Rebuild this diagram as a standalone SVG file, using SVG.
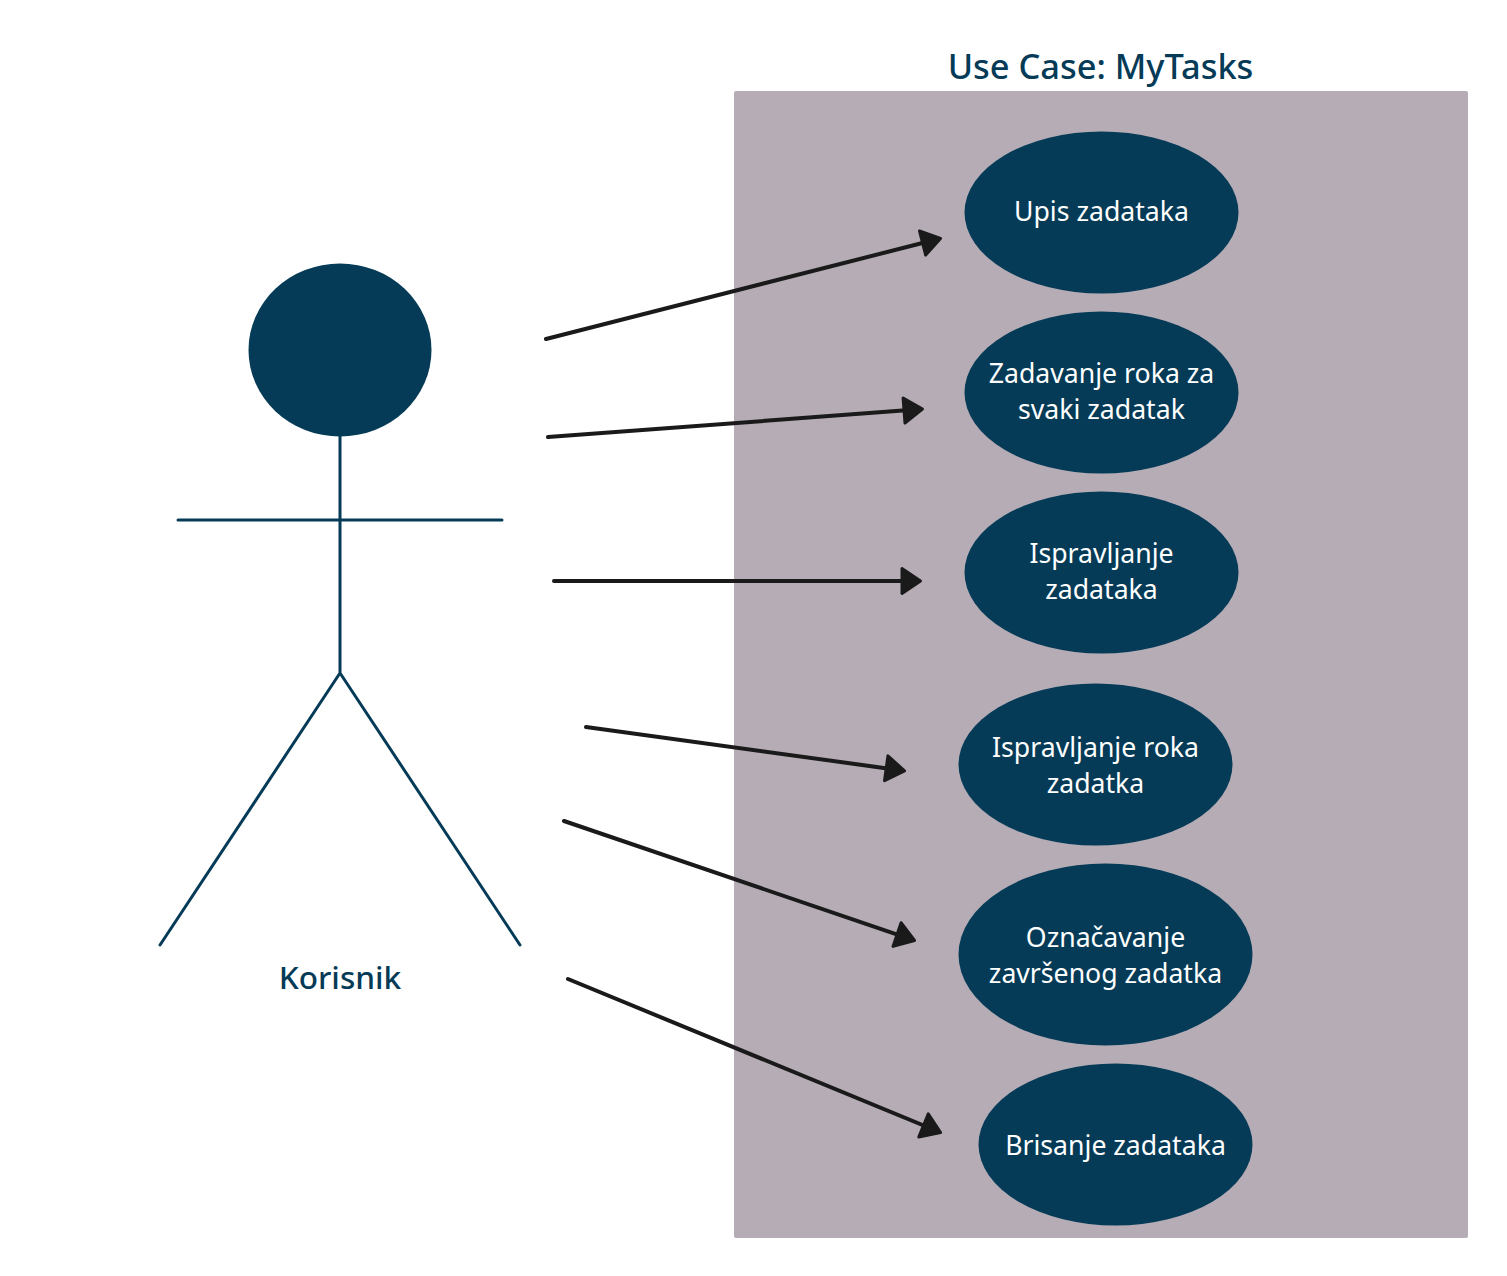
<svg xmlns="http://www.w3.org/2000/svg" width="1507" height="1276" viewBox="0 0 1507 1276">
<defs>
<marker id="arrow" markerUnits="userSpaceOnUse" markerWidth="24" markerHeight="30" refX="14" refY="15" orient="auto"><path d="M2 2.500L20.500 15L2 27.500Z" fill="#1a1a1a" stroke="#1a1a1a" stroke-width="3" stroke-linejoin="round"/></marker>
</defs>
<style>
.uc{fill:#053b57}
.t{font-family:"Noto Sans",sans-serif;font-size:26.650px;fill:#fff;text-anchor:middle}
.h{font-family:"Noto Sans",sans-serif;font-size:34.400px;font-weight:500;fill:#053b57;text-anchor:middle}
.k{font-family:"Noto Sans",sans-serif;font-size:31.600px;font-weight:500;fill:#053b57;text-anchor:middle}
.c{fill:none;stroke:#1a1a1a;stroke-width:4;stroke-linecap:round;marker-end:url(#arrow)}
.a{fill:none;stroke:#053b57;stroke-width:3;stroke-linecap:round;stroke-linejoin:round}
</style>
<rect id="boundary" x="734" y="91" width="734" height="1147" rx="2" fill="#b6acb5"/>
<text id="title" class="h" x="1100.500" y="79">Use Case: MyTasks</text>
<g id="actor"><ellipse cx="340" cy="350" rx="91.500" ry="86.500" class="uc"/><path class="a" d="M340 436V673M178 520H502M160 945L340 673L520 945"/><text class="k" x="340" y="989">Korisnik</text></g>
<g id="uc1"><ellipse class="uc" cx="1101.500" cy="212.500" rx="137" ry="81"/><text class="t" x="1101.500" y="221">Upis zadataka</text></g>
<g id="uc2"><ellipse class="uc" cx="1101.500" cy="392.500" rx="137" ry="81"/><text class="t" x="1101.500" y="383">Zadavanje roka za</text><text class="t" x="1101.500" y="419">svaki zadatak</text></g>
<g id="uc3"><ellipse class="uc" cx="1101.500" cy="572.500" rx="137" ry="81"/><text class="t" x="1101.500" y="563">Ispravljanje</text><text class="t" x="1101.500" y="599">zadataka</text></g>
<g id="uc4"><ellipse class="uc" cx="1095.500" cy="764.500" rx="137" ry="81"/><text class="t" x="1095.500" y="757">Ispravljanje roka</text><text class="t" x="1095.500" y="793">zadatka</text></g>
<g id="uc5"><ellipse class="uc" cx="1105.500" cy="954.500" rx="147" ry="91"/><text class="t" x="1105.500" y="947">Označavanje</text><text class="t" x="1105.500" y="983">završenog zadatka</text></g>
<g id="uc6"><ellipse class="uc" cx="1115.500" cy="1144.500" rx="137" ry="81"/><text class="t" x="1115.500" y="1155">Brisanje zadataka</text></g>
<g id="connectors">
<line class="c" x1="546" y1="339" x2="934.200" y2="240"/>
<line class="c" x1="548" y1="437" x2="916" y2="409.600"/>
<line class="c" x1="554" y1="581" x2="914" y2="581"/>
<line class="c" x1="586" y1="727" x2="898.100" y2="769.900"/>
<line class="c" x1="564" y1="821" x2="908.400" y2="938.400"/>
<line class="c" x1="568" y1="979" x2="934.600" y2="1130"/>
</g>
</svg>
